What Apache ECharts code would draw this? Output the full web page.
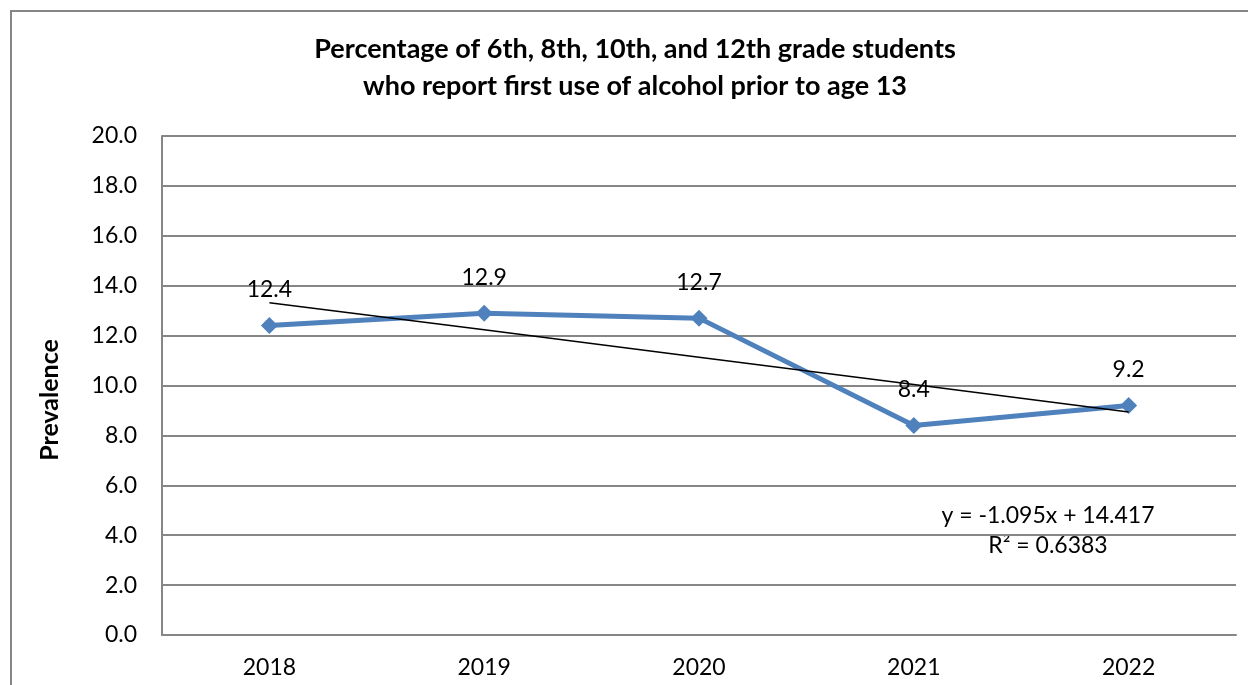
<!DOCTYPE html>
<html>
<head>
<meta charset="utf-8">
<script src="https://cdn.jsdelivr.net/npm/echarts@6/dist/echarts.min.js"></script>
<style>
  html, body { margin: 0; padding: 0; background: #fff; }
  #chart { width: 1248px; height: 685px; }
</style>
</head>
<body>
<div id="chart"></div>
<script>
var years = ['2018', '2019', '2020', '2021', '2022'];
var prevalence = [12.4, 12.9, 12.7, 8.4, 9.2];
// linear trendline (y = -1.095x + 14.417)
var trendValues = [13.32, 12.23, 11.13, 10.04, 8.94];
var equationText = 'y = -1.095x + 14.417';
var rSquaredText = 'R² = 0.6383';

var font = 'Lato, "Open Sans", sans-serif';
var chart = echarts.init(document.getElementById('chart'));

chart.setOption({
    animation: false,
    title: {
        text: 'Percentage of 6th, 8th, 10th, and 12th grade students\nwho report first use of alcohol prior to age 13',
        left: 635,
        textAlign: 'center',
        top: 31,
        padding: 0,
        textStyle: {
            fontFamily: font,
            fontSize: 27,
            fontWeight: 'bold',
            color: '#000',
            lineHeight: 37
        }
    },
    grid: {
        left: 162,
        right: 12,
        top: 136,
        bottom: 50
    },
    xAxis: {
        type: 'category',
        data: years,
        boundaryGap: true,
        axisLine: { show: true, lineStyle: { color: '#868686', width: 2 } },
        axisTick: { show: false },
        axisLabel: { fontFamily: font, fontSize: 23, color: '#000', margin: 21 }
    },
    yAxis: {
        type: 'value',
        min: 0,
        max: 20,
        interval: 2,
        axisLine: { show: true, lineStyle: { color: '#868686', width: 2 } },
        axisTick: { show: false },
        splitLine: { lineStyle: { color: '#868686', width: 2 } },
        axisLabel: {
            fontFamily: font, fontSize: 23, color: '#000', margin: 25,
            formatter: function (v) { return v.toFixed(1); }
        }
    },
    graphic: [
        {
            type: 'rect',
            shape: { x: 11, y: 11, width: 1300, height: 800 },
            style: { fill: 'none', stroke: '#868686', lineWidth: 2 },
            silent: true
        },
        {
            // y axis title, a bit below the plot's middle as in the original
            type: 'text',
            x: 50, y: 400,
            rotation: Math.PI / 2,
            style: { text: 'Prevalence', font: 'bold 25px ' + font, fill: '#000', align: 'center', verticalAlign: 'middle' }
        },
        {
            type: 'text',
            x: 1048, y: 516,
            style: { text: equationText, font: '23px ' + font, fill: '#000', align: 'center', verticalAlign: 'middle' }
        },
        {
            type: 'text',
            x: 1048, y: 546,
            style: { text: rSquaredText, font: '23px ' + font, fill: '#000', align: 'center', verticalAlign: 'middle' }
        }
    ],
    series: [
        {
            name: 'Prevalence',
            type: 'line',
            data: prevalence,
            symbol: 'diamond',
            symbolSize: 17,
            z: 2,
            lineStyle: { color: '#4F81BD', width: 5 },
            itemStyle: { color: '#4F81BD' },
            label: {
                show: true,
                position: 'top',
                distance: 16,
                fontFamily: font,
                fontSize: 23,
                color: '#000',
                formatter: function (p) { return p.value.toFixed(1); }
            }
        },
        {
            name: 'Trend',
            type: 'line',
            data: trendValues,
            symbol: 'none',
            z: 3,
            lineStyle: { color: '#000', width: 1.5 }
        }
    ]
});
</script>
</body>
</html>
